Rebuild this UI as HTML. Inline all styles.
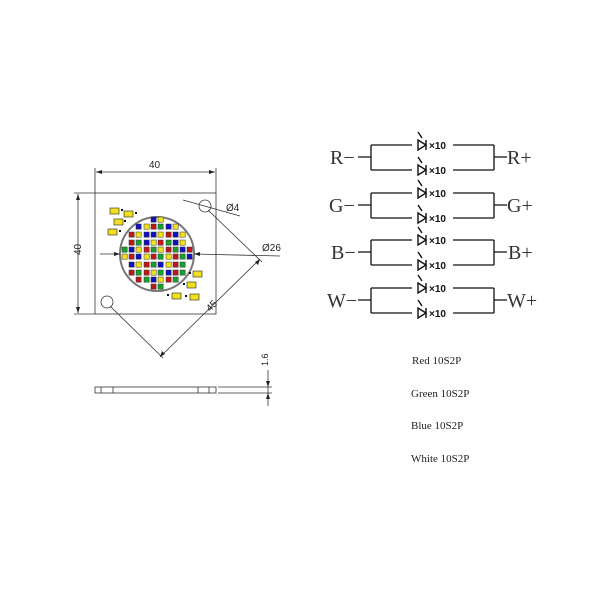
<!DOCTYPE html>
<html><head><style>body{margin:0;background:#fff}svg{display:block}.led rect{width:5.2px;height:5.2px}</style></head><body>
<svg width="600" height="600" viewBox="0 0 600 600" xmlns="http://www.w3.org/2000/svg" font-family="Liberation Sans, sans-serif">
<g stroke="#333" stroke-width="0.8" fill="none">
<rect x="95" y="193" width="121" height="121"/>
<line x1="95" y1="168" x2="95" y2="193"/><line x1="216" y1="168" x2="216" y2="193"/>
<line x1="96" y1="172" x2="215" y2="172"/>
<line x1="74" y1="193" x2="95" y2="193"/><line x1="74" y1="314" x2="95" y2="314"/>
<line x1="78" y1="194" x2="78" y2="313"/>
<circle cx="205" cy="206" r="6"/><circle cx="107" cy="302" r="6"/>
<circle cx="157" cy="254" r="37" stroke="#777" stroke-width="2"/>
<line x1="183" y1="200" x2="240" y2="216"/>
<line x1="208" y1="210" x2="262" y2="262"/>
<line x1="110" y1="306" x2="163" y2="358"/>
<line x1="160" y1="357" x2="260" y2="259"/>
<line x1="100" y1="254" x2="120" y2="254"/>
<line x1="194" y1="254" x2="280" y2="256"/>
<rect x="95" y="387" width="121" height="6"/>
<line x1="101" y1="387" x2="101" y2="393"/><line x1="113" y1="387" x2="113" y2="393"/>
<line x1="198" y1="387" x2="198" y2="393"/><line x1="209" y1="387" x2="209" y2="393"/>
<line x1="218" y1="387" x2="272" y2="387"/><line x1="218" y1="393" x2="272" y2="393"/>
<line x1="268" y1="370" x2="268" y2="406"/>
</g>
<g fill="#222">
<path d="M96 172l6-2v4z M215 172l-6-2v4z M78 194l-2 6h4z M78 313l-2-6h4z M120 254l-6-2v4z M194 254l6-2v4z M160 357l2-6 3 3z M260 259l-2 6-3-3z M268 387l-2-6h4z M268 393l-2 6h4z"/>
</g>
<g font-size="10" fill="#222">
<text x="149" y="168">40</text>
<text x="76" y="260" transform="rotate(-90 76 255)">40</text>
<text x="226" y="211">Ø4</text>
<text x="262" y="251">Ø26</text>
<text x="205" y="310" transform="rotate(-45 210 305)">45</text>
<text x="264" y="370" font-size="9" transform="rotate(-90 264 366)">1.6</text>
</g>
<g stroke="#222" stroke-width="0.6">
<rect x="110" y="208" width="9" height="6" fill="#f0e020"/><rect x="124" y="211" width="9" height="6" fill="#f0e020"/>
<rect x="114" y="219" width="9" height="6" fill="#f0e020"/><rect x="108" y="229" width="9" height="6" fill="#f0e020"/>
<rect x="193" y="271" width="9" height="6" fill="#f0e020"/><rect x="187" y="282" width="9" height="6" fill="#f0e020"/>
<rect x="172" y="293" width="9" height="6" fill="#f0e020"/><rect x="190" y="294" width="9" height="6" fill="#f0e020"/>
</g>
<g fill="#111"><rect x="121" y="209" width="2" height="2"/><rect x="135" y="212" width="2" height="2"/><rect x="124" y="220" width="2" height="2"/><rect x="119" y="230" width="2" height="2"/><rect x="189" y="272" width="2" height="2"/><rect x="183" y="283" width="2" height="2"/><rect x="167" y="294" width="2" height="2"/><rect x="185" y="295" width="2" height="2"/></g>
<g class="led" stroke="#333" stroke-width="0.5">
<rect x="151" y="217" width="6" height="6" fill="#1010c0"/><rect x="158" y="217" width="6" height="6" fill="#f0e020"/>
<rect x="136" y="224" width="6" height="6" fill="#1010c0"/><rect x="144" y="224" width="6" height="6" fill="#f0e020"/><rect x="151" y="224" width="6" height="6" fill="#c01818"/><rect x="158" y="224" width="6" height="6" fill="#18a030"/><rect x="166" y="224" width="6" height="6" fill="#1010c0"/><rect x="173" y="224" width="6" height="6" fill="#f0e020"/>
<rect x="129" y="232" width="6" height="6" fill="#c01818"/><rect x="136" y="232" width="6" height="6" fill="#f0e020"/><rect x="144" y="232" width="6" height="6" fill="#1010c0"/><rect x="151" y="232" width="6" height="6" fill="#1010c0"/><rect x="158" y="232" width="6" height="6" fill="#f0e020"/><rect x="166" y="232" width="6" height="6" fill="#c01818"/><rect x="173" y="232" width="6" height="6" fill="#1010c0"/><rect x="180" y="232" width="6" height="6" fill="#f0e020"/>
<rect x="129" y="240" width="6" height="6" fill="#c01818"/><rect x="136" y="240" width="6" height="6" fill="#18a030"/><rect x="144" y="240" width="6" height="6" fill="#1010c0"/><rect x="151" y="240" width="6" height="6" fill="#f0e020"/><rect x="158" y="240" width="6" height="6" fill="#c01818"/><rect x="166" y="240" width="6" height="6" fill="#18a030"/><rect x="173" y="240" width="6" height="6" fill="#1010c0"/><rect x="180" y="240" width="6" height="6" fill="#f0e020"/>
<rect x="122" y="247" width="6" height="6" fill="#18a030"/><rect x="129" y="247" width="6" height="6" fill="#1010c0"/><rect x="136" y="247" width="6" height="6" fill="#f0e020"/><rect x="144" y="247" width="6" height="6" fill="#c01818"/><rect x="151" y="247" width="6" height="6" fill="#18a030"/><rect x="158" y="247" width="6" height="6" fill="#f0e020"/><rect x="166" y="247" width="6" height="6" fill="#c01818"/><rect x="173" y="247" width="6" height="6" fill="#18a030"/><rect x="180" y="247" width="6" height="6" fill="#1010c0"/><rect x="187" y="247" width="6" height="6" fill="#c01818"/>
<rect x="122" y="254" width="6" height="6" fill="#f0e020"/><rect x="129" y="254" width="6" height="6" fill="#c01818"/><rect x="136" y="254" width="6" height="6" fill="#1010c0"/><rect x="144" y="254" width="6" height="6" fill="#f0e020"/><rect x="151" y="254" width="6" height="6" fill="#c01818"/><rect x="158" y="254" width="6" height="6" fill="#18a030"/><rect x="166" y="254" width="6" height="6" fill="#f0e020"/><rect x="173" y="254" width="6" height="6" fill="#c01818"/><rect x="180" y="254" width="6" height="6" fill="#18a030"/><rect x="187" y="254" width="6" height="6" fill="#1010c0"/>
<rect x="129" y="262" width="6" height="6" fill="#1010c0"/><rect x="136" y="262" width="6" height="6" fill="#f0e020"/><rect x="144" y="262" width="6" height="6" fill="#c01818"/><rect x="151" y="262" width="6" height="6" fill="#18a030"/><rect x="158" y="262" width="6" height="6" fill="#1010c0"/><rect x="166" y="262" width="6" height="6" fill="#f0e020"/><rect x="173" y="262" width="6" height="6" fill="#c01818"/><rect x="180" y="262" width="6" height="6" fill="#18a030"/>
<rect x="129" y="270" width="6" height="6" fill="#c01818"/><rect x="136" y="270" width="6" height="6" fill="#18a030"/><rect x="144" y="270" width="6" height="6" fill="#c01818"/><rect x="151" y="270" width="6" height="6" fill="#f0e020"/><rect x="158" y="270" width="6" height="6" fill="#18a030"/><rect x="166" y="270" width="6" height="6" fill="#1010c0"/><rect x="173" y="270" width="6" height="6" fill="#c01818"/><rect x="180" y="270" width="6" height="6" fill="#18a030"/>
<rect x="136" y="277" width="6" height="6" fill="#c01818"/><rect x="144" y="277" width="6" height="6" fill="#18a030"/><rect x="151" y="277" width="6" height="6" fill="#1010c0"/><rect x="158" y="277" width="6" height="6" fill="#f0e020"/><rect x="166" y="277" width="6" height="6" fill="#c01818"/><rect x="173" y="277" width="6" height="6" fill="#18a030"/>
<rect x="151" y="284" width="6" height="6" fill="#c01818"/><rect x="158" y="284" width="6" height="6" fill="#18a030"/>
</g>
<g stroke="#111" stroke-width="1.3" fill="none">
<path d="M358 157h13 M371 145v25 M371 145h41 M371 170h41 M453 145h41 M453 170h41 M494 145v25 M494 157h13"/>
<path d="M358 205h13 M371 193v25 M371 193h41 M371 218h41 M453 193h41 M453 218h41 M494 193v25 M494 205h13"/>
<path d="M358 252h13 M371 240v25 M371 240h41 M371 265h41 M453 240h41 M453 265h41 M494 240v25 M494 252h13"/>
<path d="M358 300h13 M371 288v25 M371 288h41 M371 313h41 M453 288h41 M453 313h41 M494 288v25 M494 300h13"/>
</g>
<g font-family="Liberation Serif, serif" font-size="20" fill="#333">
<text x="330" y="164">R−</text><text x="507" y="164">R+</text>
<text x="329" y="212">G−</text><text x="507" y="212">G+</text>
<text x="331" y="259">B−</text><text x="508" y="259">B+</text>
<text x="327" y="307">W−</text><text x="507" y="307">W+</text>
</g>
<g fill="none" stroke="#111" stroke-width="1.4">
<path d="M418 140l8 5-8 5z M426 140v10 M418 165l8 5-8 5z M426 165v10 M418 188l8 5-8 5z M426 188v10 M418 213l8 5-8 5z M426 213v10 M418 235l8 5-8 5z M426 235v10 M418 260l8 5-8 5z M426 260v10 M418 283l8 5-8 5z M426 283v10 M418 308l8 5-8 5z M426 308v10"/>
<path d="M418 132l4 6 M418 157l4 6 M418 180l4 6 M418 205l4 6 M418 227l4 6 M418 252l4 6 M418 275l4 6 M418 300l4 6"/>
</g>
<g font-size="10" font-weight="bold" fill="#111">
<text x="429" y="149">×10</text><text x="429" y="174">×10</text>
<text x="429" y="197">×10</text><text x="429" y="222">×10</text>
<text x="429" y="244">×10</text><text x="429" y="269">×10</text>
<text x="429" y="292">×10</text><text x="429" y="317">×10</text>
</g>
<g font-family="Liberation Serif, serif" font-size="11" fill="#222">
<text x="412" y="364">Red 10S2P</text>
<text x="411" y="397">Green 10S2P</text>
<text x="411" y="429">Blue 10S2P</text>
<text x="411" y="462">White 10S2P</text>
</g>
</svg>
</body></html>
